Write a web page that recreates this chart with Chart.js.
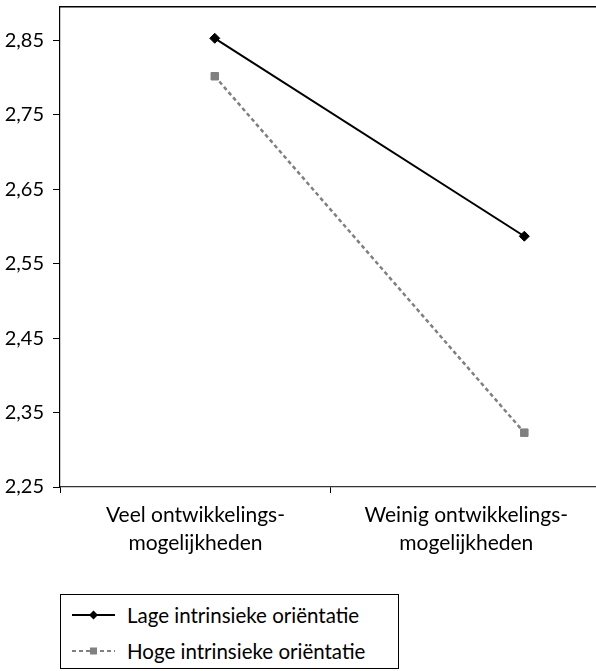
<!DOCTYPE html>
<html>
<head>
<meta charset="utf-8">
<script src="https://cdn.jsdelivr.net/npm/chart.js@4"></script>
<style>
    html, body { margin: 0; padding: 0; background: #fff; overflow: hidden; }
    body { width: 596px; height: 671px; position: relative; font-family: Lato, "Open Sans", sans-serif; }
    #wrap { position: absolute; left: 0; top: 0; width: 608px; height: 580px; }
    #legend {
        position: absolute; left: 60px; top: 594px; width: 339px; height: 75px;
        border: 1px solid #000; box-sizing: border-box; font-size: 20.5px; color: #000;
    }
    .row { position: absolute; left: 11px; height: 26px; display: flex; align-items: center; }
    .row svg { margin-right: 12px; }
</style>
</head>
<body>
<div id="wrap"><canvas id="chart"></canvas></div>
<div id="legend"></div>

<script>
// chart data
const categories = [['Veel ontwikkelings-', 'mogelijkheden'], ['Weinig ontwikkelings-', 'mogelijkheden']];
const seriesNames = ['Lage intrinsieke oriëntatie', 'Hoge intrinsieke oriëntatie'];
const lageValues = [2.853, 2.587];
const hogeValues = [2.802, 2.323];
const yTicks = [2.25, 2.35, 2.45, 2.55, 2.65, 2.75, 2.85];
// where along the axis (in sevenths) the markers sit for each category
const markerSlots = [2, 6];

const fmt = v => v.toFixed(2).replace('.', ',');

function toPoints(values) {
    return values.map((v, i) => ({ x: markerSlots[i], y: v }));
}

function buildLegend() {
    const legend = document.getElementById('legend');
    const rows = [
        { top: 7, svg: '<line x1="0" y1="6" x2="43" y2="6" stroke="#000" stroke-width="2"/>' +
                       '<polygon points="21.5,1.5 26,6 21.5,10.5 17,6" fill="#000"/>' },
        { top: 43, svg: '<line x1="0" y1="6" x2="43" y2="6" stroke="#808080" stroke-width="2" stroke-dasharray="4,3"/>' +
                        '<rect x="18" y="2.5" width="7" height="7" fill="#808080"/>' }
    ];
    rows.forEach((r, i) => {
        const div = document.createElement('div');
        div.className = 'row';
        div.style.top = r.top + 'px';
        div.innerHTML = '<svg width="43" height="12">' + r.svg + '</svg><span>' + seriesNames[i] + '</span>';
        legend.appendChild(div);
    });
}

// drop the label overhang padding so the plot area keeps its exact edges
function noOverhang(scale) {
    scale.paddingTop = 0;
    scale.paddingBottom = 0;
    scale.paddingLeft = 0;
    scale.paddingRight = 0;
}

function draw() {
    const ctx = document.getElementById('chart');
    new Chart(ctx, {
        type: 'line',
        data: {
            labels: categories,
            datasets: [
                {
                    label: seriesNames[0],
                    data: toPoints(lageValues),
                    xAxisID: 'xPos',
                    borderColor: '#000',
                    backgroundColor: '#000',
                    borderWidth: 2,
                    pointStyle: 'rectRot',
                    pointRadius: 5,
                    pointBorderWidth: 1
                },
                {
                    label: seriesNames[1],
                    data: toPoints(hogeValues),
                    xAxisID: 'xPos',
                    borderColor: '#808080',
                    backgroundColor: '#808080',
                    borderWidth: 2.5,
                    borderDash: [4, 3],
                    pointStyle: 'rect',
                    pointRadius: 5.3,
                    pointBorderWidth: 1
                }
            ]
        },
        options: {
            responsive: true,
            maintainAspectRatio: false,
            animation: false,
            layout: { padding: { top: 4, right: 4, left: 0, bottom: 0 } },
            plugins: {
                legend: { display: false },
                tooltip: { enabled: false }
            },
            scales: {
                x: {
                    type: 'category',
                    position: 'bottom',
                    offset: true,
                    grid: {
                        offset: true,
                        drawOnChartArea: false,
                        tickLength: 6,
                        color: '#000'
                    },
                    border: { color: '#333', width: 1.2 },
                    ticks: {
                        color: '#000',
                        padding: 9,
                        maxRotation: 0,
                        font: { family: 'Lato', size: 21, lineHeight: 1.3 }
                    },
                    afterFit: scale => { noOverhang(scale); scale.height = 93; }
                },
                xPos: {
                    type: 'linear',
                    position: 'top',
                    min: 0,
                    max: 7,
                    grid: { display: false },
                    ticks: { display: false },
                    border: { display: true, color: '#000', width: 1.5 },
                    afterFit: scale => { noOverhang(scale); scale.height = 0; }
                },
                y: {
                    min: 2.25,
                    max: 2.896,
                    afterBuildTicks: scale => {
                        scale.ticks = yTicks.map(v => ({ value: v }));
                    },
                    grid: {
                        drawOnChartArea: false,
                        tickLength: 7,
                        color: '#000'
                    },
                    border: { color: '#000', width: 1.2 },
                    ticks: {
                        color: '#000',
                        padding: 9,
                        font: { family: 'Lato', size: 20 },
                        callback: v => fmt(v)
                    },
                    afterFit: scale => { noOverhang(scale); scale.width = 60; }
                }
            }
        }
    });
}

buildLegend();
document.fonts.load('21px Lato').then(draw, draw);
</script>
</body>
</html>
